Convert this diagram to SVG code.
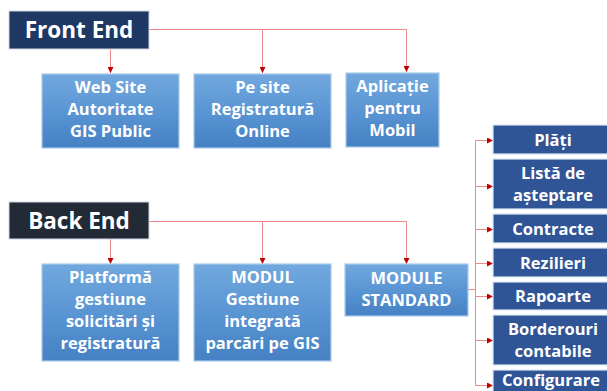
<svg xmlns="http://www.w3.org/2000/svg" width="607" height="391" viewBox="0 0 607 391">
<defs>
<linearGradient id="g" x1="0" y1="0" x2="0" y2="1">
<stop offset="0" stop-color="#72A8DE"/>
<stop offset="0.5" stop-color="#5A95D4"/>
<stop offset="1" stop-color="#4581C3"/>
</linearGradient>
<marker id="ah" viewBox="0 0 6 6" refX="6" refY="3" markerWidth="6" markerHeight="6" orient="auto" markerUnits="userSpaceOnUse">
<path d="M0,0 L6,3 L0,6 Z" fill="#C00000"/>
</marker>
<style>
.hdr{font-family:"Open Sans","Liberation Sans",sans-serif;font-weight:bold;font-size:22.5px;fill:#fff;text-anchor:middle}
.t{font-family:"Open Sans","Liberation Sans",sans-serif;font-weight:bold;font-size:16.5px;fill:#fff;text-anchor:middle}
.blue{fill:url(#g);stroke:#A8CBEB;stroke-width:1.2}
.nav{fill:#2F5597;stroke:#DCE6F2;stroke-width:1.2}
.c{fill:none;stroke:#F08A8A;stroke-width:1;marker-end:url(#ah)}
.cl{fill:none;stroke:#F08A8A;stroke-width:1}
</style>
</defs>
<rect width="607" height="391" fill="#fff"/>
<g id="connectors">
<path class="cl" d="M149,29.5 H406.5"/>
<path class="c" d="M110.5,49 V73"/>
<path class="c" d="M262.5,29.5 V73"/>
<path class="c" d="M406.5,29.5 V72"/>
<path class="cl" d="M149,221.5 H406.5"/>
<path class="c" d="M110.5,239 V264"/>
<path class="c" d="M262.5,221.5 V264"/>
<path class="c" d="M406.5,221.5 V264"/>
<path class="cl" d="M468,289.5 H475.5 M475.5,140.5 V385.5"/>
<path class="c" d="M475.5,140.5 H493"/>
<path class="c" d="M475.5,186.5 H493"/>
<path class="c" d="M475.5,229.5 H493"/>
<path class="c" d="M475.5,263.5 H493"/>
<path class="c" d="M475.5,296.5 H493"/>
<path class="c" d="M475.5,340.5 H493"/>
<path class="c" d="M475.5,385.5 H493"/>
</g>
<g id="front-end">
<rect x="9" y="11" width="140" height="38" fill="#1F3763" stroke="#D0D8E4" stroke-width="1"/>
<text class="hdr" x="79" y="37.5">Front End</text>
</g>
<g id="web-site">
<rect class="blue" x="42" y="74" width="137" height="74"/>
<text class="t" x="110.5" y="93">Web Site</text>
<text class="t" x="110.5" y="115">Autoritate</text>
<text class="t" x="110.5" y="137">GIS Public</text>
</g>
<g id="pe-site">
<rect class="blue" x="194" y="74" width="137" height="74"/>
<text class="t" x="262.5" y="93">Pe site</text>
<text class="t" x="262.5" y="115">Registratură</text>
<text class="t" x="262.5" y="137">Online</text>
</g>
<g id="aplicatie">
<rect class="blue" x="346" y="73" width="93" height="74"/>
<text class="t" x="392.5" y="92">Aplicație</text>
<text class="t" x="392.5" y="114">pentru</text>
<text class="t" x="392.5" y="136">Mobil</text>
</g>
<g id="back-end">
<rect x="9" y="202" width="140" height="37" fill="#222A35" stroke="#D0D8E4" stroke-width="1"/>
<text class="hdr" x="79" y="228.5">Back End</text>
</g>
<g id="platforma">
<rect class="blue" x="42" y="264" width="137" height="97"/>
<text class="t" x="110.5" y="283">Platformă</text>
<text class="t" x="110.5" y="305">gestiune</text>
<text class="t" x="110.5" y="327">solicitări și</text>
<text class="t" x="110.5" y="349">registratură</text>
</g>
<g id="modul-gestiune">
<rect class="blue" x="194" y="264" width="137" height="97"/>
<text class="t" x="262.5" y="283">MODUL</text>
<text class="t" x="262.5" y="305">Gestiune</text>
<text class="t" x="262.5" y="327">integrată</text>
<text class="t" x="262.5" y="349">parcări pe GIS</text>
</g>
<g id="module-standard">
<rect class="blue" x="345" y="264" width="123" height="52"/>
<text class="t" x="406.5" y="284">MODULE</text>
<text class="t" x="406.5" y="306">STANDARD</text>
</g>
<g id="plati">
<rect class="nav" x="493" y="125" width="120" height="29"/>
<text class="t" x="553" y="145.5">Plăți</text>
</g>
<g id="lista">
<rect class="nav" x="493" y="159" width="120" height="50"/>
<text class="t" x="553" y="179">Listă de</text>
<text class="t" x="553" y="200.5">așteptare</text>
</g>
<g id="contracte">
<rect class="nav" x="493" y="214" width="120" height="29"/>
<text class="t" x="553" y="234.5">Contracte</text>
</g>
<g id="rezilieri">
<rect class="nav" x="493" y="248" width="120" height="29"/>
<text class="t" x="553" y="268.5">Rezilieri</text>
</g>
<g id="rapoarte">
<rect class="nav" x="493" y="282" width="120" height="28"/>
<text class="t" x="553" y="301.5">Rapoarte</text>
</g>
<g id="borderouri">
<rect class="nav" x="493" y="315" width="120" height="50"/>
<text class="t" x="553" y="335">Borderouri</text>
<text class="t" x="553" y="356.5">contabile</text>
</g>
<g id="configurare">
<rect class="nav" x="493" y="370" width="120" height="30"/>
<text class="t" x="551" y="386" font-size="16px">Configurare</text>
</g>
</svg>
